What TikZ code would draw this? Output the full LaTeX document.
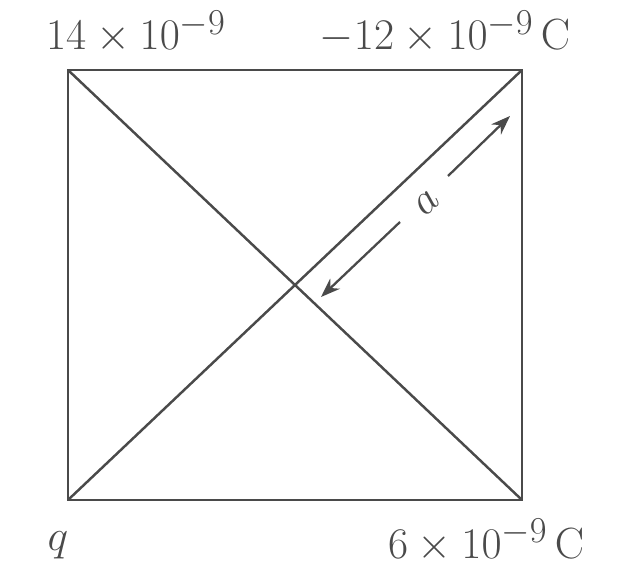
\documentclass[tikz,border=0pt]{standalone}
\usepackage{tikz}
\usetikzlibrary{positioning, arrows.meta, calc}
\definecolor{sqink}{HTML}{4A4A4A}
\tikzset{
  charge/.style={text=sqink, font=\fontsize{28}{32}\selectfont, inner sep=0pt},
  edge/.style={draw=sqink, line width=1.7pt},
  span/.style={draw=sqink, line width=1.3pt, -{Stealth[length=11pt, width=8pt]}}
}

\begin{document}
\begin{tikzpicture}[x=0.02cm, y=-0.02cm]
  \useasboundingbox (0,0) rectangle (629,567);
  \coordinate (tl) at (68,70);
  \coordinate (tr) at (522,70);
  \coordinate (br) at (522,500);
  \coordinate (bl) at (68,500);
  % square and its diagonals
  \draw[edge] (tl) -- (tr) -- (br) -- (bl) -- cycle;
  \draw[edge, line width=1.4pt] (tl) -- (br);
  \draw[edge, line width=1.4pt] (bl) -- (tr);
  % distance a along the diagonal
  \coordinate (alow) at (321,297);
  \coordinate (ahigh) at (510,116);
  \coordinate (gaplow) at (400,222);
  \coordinate (gaphigh) at (448,176);
  \draw[span] (gaplow) -- (alow);
  \draw[span] (gaphigh) -- (ahigh);
  \node[text=sqink, font=\fontsize{26}{30}\selectfont, rotate=43] (alabel) at (427,203) {$a$};
  % charges
  \node[charge, anchor=base] (qtl) at (136,50) {$14\times10^{-9}$};
  \node[charge, anchor=base] (qtr) at (445,50) {$-12\times10^{-9}\,\mathrm{C}$};
  \node[charge, anchor=base] (qbl) at (58,550) {$q$};
  \node[charge, anchor=base] (qbr) at (486,558) {$6\times10^{-9}\,\mathrm{C}$};
\end{tikzpicture}
\end{document}
